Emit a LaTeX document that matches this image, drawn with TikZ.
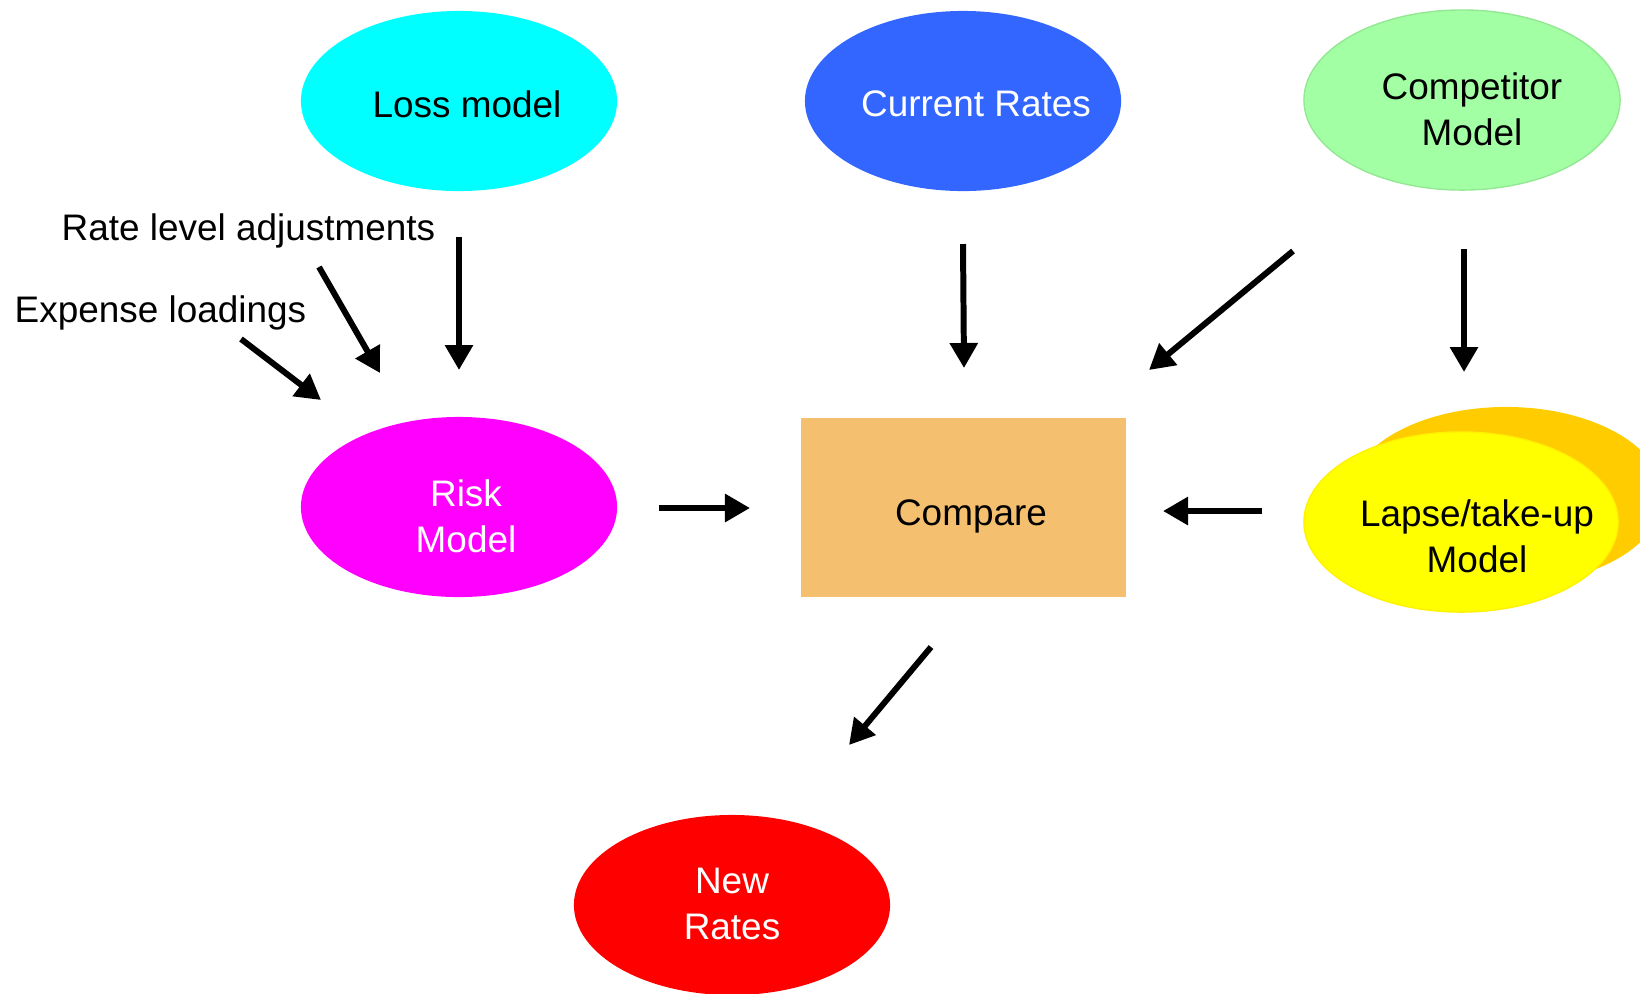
\documentclass[tikz,border=0pt]{standalone}
\usepackage{fontspec}
\setmainfont{Liberation Sans}
\usetikzlibrary{shapes.geometric,arrows.meta,calc}
\definecolor{cyanc}{HTML}{00FFFF}
\definecolor{bluec}{HTML}{3366FF}
\definecolor{greenc}{HTML}{A3FFA3}
\definecolor{magc}{HTML}{FF00FF}
\definecolor{cmpc}{HTML}{F4C06F}
\definecolor{yelc}{HTML}{FFFF00}
\definecolor{orc}{HTML}{FFCC00}
\definecolor{redc}{HTML}{FF0000}
\begin{document}
\begin{tikzpicture}[x=0.01cm,y=-0.01cm,
  ell/.style={ellipse,minimum width=3.16cm,minimum height=1.80cm,inner sep=0pt,draw=none},
  txt/.style={font=\fontsize{10.5}{13.1}\selectfont,align=center,inner sep=0pt},
  arr/.style={line width=1.7pt,-{Triangle[length=0.25cm,width=0.27cm]}}]
\useasboundingbox (0,0) rectangle (1640,993);
\begin{scope}
\clip (0,0) rectangle (1640,993);
% ellipses
\node[ell,fill=cyanc] (loss) at (459,101) {};
\node[txt] (losst) at (467,104) {Loss model};
\node[ell,fill=bluec] (cur) at (963,101) {};
\node[txt,text=white] (curt) at (976,104) {Current Rates};
\node[ell,fill=greenc,draw=greenc!85!black!60!greenc,line width=0.4pt] (comp) at (1462,100) {};
\node[txt] (compt) at (1472,109) {Competitor\\Model};
\node[ell,fill=magc] (risk) at (459,507) {};
\node[txt,text=white] (riskt) at (466,516) {Risk\\Model};
\node[rectangle,fill=cmpc,minimum width=3.25cm,minimum height=1.79cm,inner sep=0pt] (cmp) at (963.5,507.5) {};
\node[txt] (cmpt) at (971,516) {Compare};
\node[ell,fill=orc,minimum width=3.14cm,minimum height=1.78cm] (lapb) at (1506,496) {};
\node[ell,fill=yelc,draw=yelc!90!orange,line width=0.4pt,minimum width=3.14cm,minimum height=1.80cm] (lap) at (1461,522) {};
\node[txt] (lapt) at (1477,536) {Lapse/take-up\\Model};
\node[ell,fill=redc] (new) at (732,905) {};
\node[txt,text=white] (newt) at (732,904) {New\\Rates};
\end{scope}
% labels
\node[txt,anchor=west] (rla) at (61,231) {Rate level adjustments};
\node[txt,anchor=west] (exl) at (14,313) {Expense loadings};
% arrow coordinates
\coordinate (a1s) at (459,237); \coordinate (a1e) at (459,370);
\coordinate (a2s) at (319,267); \coordinate (a2e) at (380,373);
\coordinate (a3s) at (241,339); \coordinate (a3e) at (321,400);
\coordinate (a4s) at (963,244); \coordinate (a4e) at (964,368);
\coordinate (a5s) at (1293,251); \coordinate (a5e) at (1149,370);
\coordinate (a6s) at (1464,249); \coordinate (a6e) at (1464,372);
\coordinate (a7s) at (659,508); \coordinate (a7e) at (750,508);
\coordinate (a8s) at (1262,511); \coordinate (a8e) at (1163,511);
\coordinate (a9s) at (931,647); \coordinate (a9e) at (849,745);
\foreach \i in {1,...,9} {\draw[arr] (a\i s) -- (a\i e);}
\end{tikzpicture}
\end{document}
